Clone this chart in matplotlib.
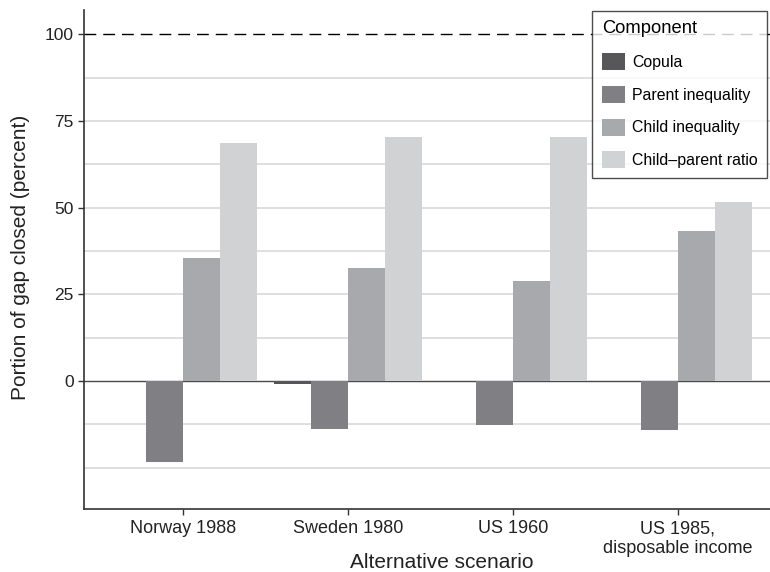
import numpy as np
import matplotlib
matplotlib.use("Agg")
import matplotlib.pyplot as plt

plt.rcParams['font.family'] = ['Liberation Sans', 'DejaVu Sans']

scenarios = ["Norway 1988", "Sweden 1980", "US 1960", "US 1985,\ndisposable income"]
components = ["Copula", "Parent inequality", "Child inequality", "Child\u2013parent ratio"]
copula = [0.0, -0.8, 0.0, 0.0]
parent_ineq = [-23.3, -13.7, -12.6, -14.0]
child_ineq = [35.4, 32.6, 28.8, 43.2]
child_parent_ratio = [68.6, 70.3, 70.3, 51.6]
colors = ["#57575a", "#808084", "#a8a9ac", "#d1d2d4"]

grid_vals = [-25, -12.5, 12.5, 25, 37.5, 50, 62.5, 75, 87.5]
yticks = [0, 25, 50, 75, 100]

fig = plt.figure(figsize=(7.7, 5.72), dpi=100)
ax = fig.add_axes([84/770, 1 - 509/572, 686/770, 499/572])

for g in grid_vals:
    ax.axhline(g, color="#d9d9da", lw=1.2, zorder=0)
ax.axhline(0, color="#4a4a4a", lw=1.0, zorder=0.5)
ax.axhline(100, color="black", lw=1.0, ls=(0, (8.5, 5)), zorder=0.5)

x = np.arange(1, len(scenarios) + 1)
w = 0.225
series = [copula, parent_ineq, child_ineq, child_parent_ratio]
for i, (vals, lab, c) in enumerate(zip(series, components, colors)):
    ax.bar(x + (i - 1.5) * w, vals, width=w, color=c, label=lab, zorder=2, linewidth=0)

ax.set_xlim(0.4, 4.56)
ax.set_ylim(-36.9, 107)
ax.set_xticks(x)
ax.set_xticklabels(scenarios, fontsize=13, color="#222222")
ax.set_yticks(yticks)
ax.set_yticklabels([str(v) for v in yticks], fontsize=12.5, color="#222222")
ax.tick_params(axis="both", length=4, width=1, color="#333333")
ax.tick_params(axis="x", pad=4)

for s in ["top", "right"]:
    ax.spines[s].set_visible(False)
for s in ["left", "bottom"]:
    ax.spines[s].set_color("#333333")
    ax.spines[s].set_linewidth(1.2)

# axis titles placed by hand (tight to the figure edges like the original)
fig.text(442/770, 0.5/572, "Alternative scenario", fontsize=15, color="#222222",
         ha="center", va="bottom")
fig.text(21/770, 1 - 257/572, "Portion of gap closed (percent)", fontsize=15,
         color="#222222", rotation=90, ha="center", va="center")

leg = ax.legend(title="Component", loc="upper right", bbox_to_anchor=(0.9956, 0.998),
                fontsize=11.4, title_fontsize=13.2, frameon=True, fancybox=False,
                handlelength=1.45, handleheight=1.26, labelspacing=1.0,
                handletextpad=0.45, borderpad=0.6, borderaxespad=0)
leg._legend_box.align = "left"
leg.get_frame().set_edgecolor("#222222")
leg.get_frame().set_linewidth(1.0)
leg.set_zorder(5)

fig.savefig("out.png", dpi=100)
